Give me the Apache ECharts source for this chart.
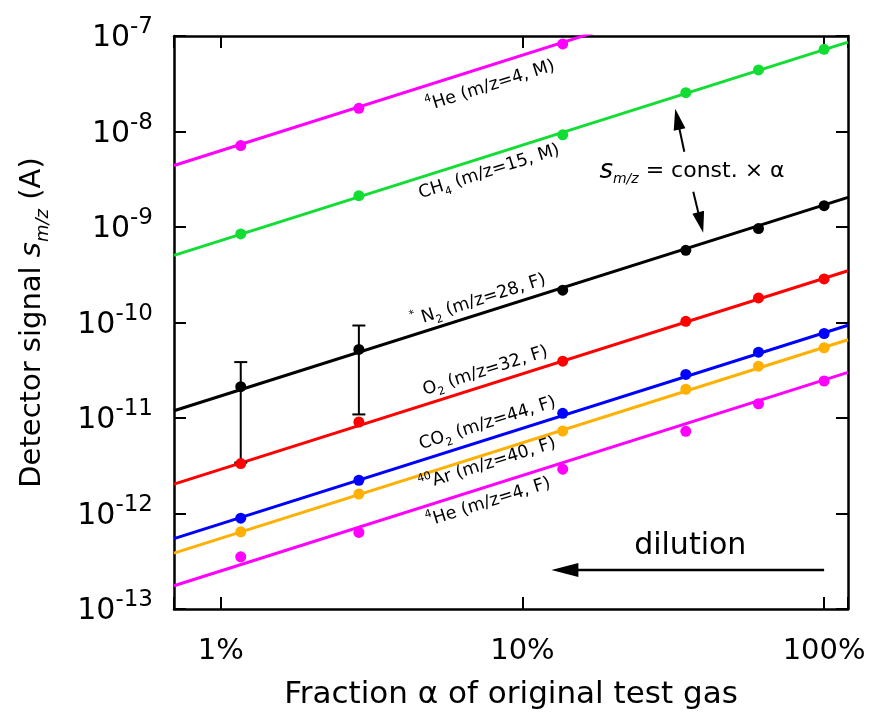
<!DOCTYPE html>
<html><head><meta charset="utf-8">
<script src="https://cdn.jsdelivr.net/npm/echarts@6/dist/echarts.min.js"></script>
<style>html,body{margin:0;padding:0;background:#fff}#c{width:873px;height:715px}</style>
</head><body><div id="c"></div>
<script>
// ---- data ----
const alphas = [0.01165, 0.0287, 0.136, 0.348, 0.606, 1.0];
const xRange = [0.007, 1.2];
const yRange = [1e-13, 1e-7];
const xTickLabels = { '-2': '1%', '-1': '10%', '0': '100%' };

const he4M  = [7.13e-9, 1.75e-8, 8.25e-8];
const ch4M  = [8.46e-10, 2.13e-9, 9.23e-9, 2.55e-8, 4.41e-8, 7.26e-8];
const n2F   = [2.13e-11, 5.22e-11, 2.18e-10, 5.70e-10, 9.62e-10, 1.67e-9];
const o2F   = [3.33e-12, 9.08e-12, 3.94e-11, 1.03e-10, 1.81e-10, 2.86e-10];
const co2F  = [8.94e-13, 2.23e-12, 1.12e-11, 2.86e-11, 4.89e-11, 7.67e-11];
const ar40F = [6.43e-13, 1.60e-12, 7.31e-12, 2.00e-11, 3.49e-11, 5.44e-11];
const he4F  = [3.52e-13, 6.34e-13, 2.91e-12, 7.26e-12, 1.41e-11, 2.44e-11];

// fitted constant (signal at alpha = 100%), s = const x alpha
const fitConst = [6.3e-7, 7.2e-8, 1.7e-9, 2.9e-10, 7.8e-11, 5.5e-11, 2.5e-11];

// error bars of N2 at the two lowest fractions
const n2ErrAlpha = [0.01165, 0.0287];
const n2ErrLow   = [3.41e-12, 1.09e-11];
const n2ErrHigh  = [3.85e-11, 9.3e-11];

const seriesValues = [he4M, ch4M, n2F, o2F, co2F, ar40F, he4F];
const seriesNames = ['4He (m/z=4, M)', 'CH4 (m/z=15, M)', '*N2 (m/z=28, F)', 'O2 (m/z=32, F)', 'CO2 (m/z=44, F)', '40Ar (m/z=40, F)', '4He (m/z=4, F)'];
const colors = ['#ff00ff', '#11dd33', '#000000', '#ff0000', '#0000ff', '#ffb000', '#ff00ff'];

// in-plot labels (text centre, data coordinates)
const labelTexts = [
  '{sup|4}{m|He (m/z=4, M)}',
  '{m|CH}{sub|4}{m| (m/z=15, M)}',
  '{sup|*}{m| N}{sub|2}{m| (m/z=28, F)}',
  '{m|O}{sub|2}{m| (m/z=32, F)}',
  '{m|CO}{sub|2}{m| (m/z=44, F)}',
  '{sup|40}{m|Ar (m/z=40, F)}',
  '{sup|4}{m|He (m/z=4, F)}'
];
const labelAlpha  = [0.0783, 0.0776, 0.0715, 0.0754, 0.0766, 0.0766, 0.0772];
const labelSignal = [3.0e-8, 3.79e-9, 1.70e-10, 3.11e-11, 8.8e-12, 3.28e-12, 1.31e-12];

// annotations (data coordinates)
const constTextPos = [0.180, 3.79e-9];
const upArrow   = [[0.344, 6.13e-9], [0.321, 1.726e-8]];
const downArrow = [[0.3684, 2.34e-9], [0.3974, 8.73e-10]];
const dilutionTextPos = [0.360, 4.56e-13];
const dilutionArrow = [[1.0, 2.56e-13], [0.1247, 2.56e-13]];

// ---- chart ----
const FONT = 'DejaVu Sans';
const chart = echarts.init(document.getElementById('c'), null, { renderer: 'canvas' });

const series = [];
seriesValues.forEach((vals, i) => {
  series.push({
    type: 'line', name: seriesNames[i] + ' fit',
    data: xRange.map(a => [a, fitConst[i] * a]),
    showSymbol: false, silent: true,
    lineStyle: { color: colors[i], width: 3 },
    clip: true, z: 2
  });
});
series.push({
  type: 'custom', name: 'N2 error',
  data: n2ErrAlpha.map((a, i) => [a, n2ErrLow[i], n2ErrHigh[i]]),
  renderItem: (params, api) => {
    const lo = api.coord([api.value(0), api.value(1)]);
    const hi = api.coord([api.value(0), api.value(2)]);
    const w = 6.5;
    const st = { stroke: '#000', lineWidth: 2 };
    return { type: 'group', children: [
      { type: 'line', shape: { x1: lo[0], y1: lo[1], x2: hi[0], y2: hi[1] }, style: st },
      { type: 'line', shape: { x1: lo[0] - w, y1: lo[1], x2: lo[0] + w, y2: lo[1] }, style: st },
      { type: 'line', shape: { x1: hi[0] - w, y1: hi[1], x2: hi[0] + w, y2: hi[1] }, style: st }
    ]};
  },
  z: 3
});
seriesValues.forEach((vals, i) => {
  series.push({
    type: 'scatter', name: seriesNames[i],
    data: vals.map((v, k) => [alphas[k], v]),
    symbol: 'circle', symbolSize: 11,
    itemStyle: { color: colors[i], opacity: 1 }, z: 4, clip: true
  });
});

const axisCommon = {
  type: 'log', logBase: 10,
  axisLine: { show: true, onZero: false, lineStyle: { color: '#000', width: 2.5 } },
  axisTick: { show: true, inside: true, length: 12, lineStyle: { color: '#000', width: 2 } },
  minorTick: { show: false },
  splitLine: { show: false }
};

const option = {
  animation: false,
  backgroundColor: '#fff',
  grid: { left: 174, top: 36, right: 25, bottom: 105 },
  xAxis: [
    Object.assign({}, axisCommon, {
      position: 'bottom', min: xRange[0], max: xRange[1],
      axisLabel: {
        margin: 28, color: '#000', fontSize: 29, fontFamily: FONT,
        formatter: v => { const e = Math.log10(v); const r = Math.round(e);
          return Math.abs(e - r) < 1e-6 && xTickLabels[r] !== undefined ? xTickLabels[r] : ''; }
      },
      name: 'Fraction α of original test gas', nameLocation: 'middle', nameGap: 70,
      nameTextStyle: { color: '#000', fontSize: 31, fontFamily: FONT }
    }),
    Object.assign({}, axisCommon, {
      position: 'top', min: xRange[0], max: xRange[1], axisLabel: { show: false }
    })
  ],
  yAxis: [
    Object.assign({}, axisCommon, {
      position: 'left', min: yRange[0], max: yRange[1],
      axisLabel: {
        margin: 21, color: '#000',
        formatter: v => '{b|10}{s|' + Math.round(Math.log10(v)) + '}',
        rich: {
          b: { fontSize: 30, lineHeight: 40, fontFamily: FONT, color: '#000', padding: [5, 0, 0, 0] },
          s: { fontSize: 23, lineHeight: 16, verticalAlign: 'top', fontFamily: FONT, color: '#000' }
        }
      },
      name: '{a|Detector signal }{i|s}{sub|m/z}{a| (A)}', nameLocation: 'middle', nameRotate: 90, nameGap: 122,
      nameTextStyle: {
        rich: {
          a: { fontSize: 29, lineHeight: 40, fontFamily: FONT, color: '#000' },
          i: { fontSize: 29, lineHeight: 40, fontStyle: 'italic', fontFamily: FONT, color: '#000' },
          sub: { fontSize: 18, lineHeight: 16, fontStyle: 'italic', verticalAlign: 'bottom', fontFamily: FONT, color: '#000' }
        }
      }
    }),
    Object.assign({}, axisCommon, {
      position: 'right', min: yRange[0], max: yRange[1], axisLabel: { show: false }
    })
  ],
  series: series
};
chart.setOption(option);

// ---- annotations placed through the axes' scales ----
const px = (p) => chart.convertToPixel({ xAxisIndex: 0, yAxisIndex: 0 }, p);
const g = [];
const richLab = {
  m: { fontSize: 17.5, lineHeight: 24, fontFamily: FONT, color: '#000' },
  sup: { fontSize: 11, lineHeight: 14, verticalAlign: 'top', fontFamily: FONT, color: '#000' },
  sub: { fontSize: 11, lineHeight: 12, verticalAlign: 'bottom', fontFamily: FONT, color: '#000' }
};
labelTexts.forEach((t, i) => {
  const p0 = px([0.01, fitConst[i] * 0.01]);
  const p1 = px([1, fitConst[i] * 1]);
  const ang = Math.atan2(p0[1] - p1[1], p1[0] - p0[0]);
  const c = px([labelAlpha[i], labelSignal[i]]);
  g.push({ type: 'text', x: c[0], y: c[1], rotation: ang, z: 100,
    style: { text: t, rich: richLab, align: 'center', verticalAlign: 'middle', fill: '#000', fontFamily: FONT, fontSize: 17 } });
});

function arrow(a, b, headLen, headHalf, lw) {
  const p = px(a), q = px(b);
  const dx = q[0] - p[0], dy = q[1] - p[1];
  const L = Math.hypot(dx, dy), ux = dx / L, uy = dy / L;
  const bx = q[0] - ux * headLen, by = q[1] - uy * headLen;
  g.push({ type: 'line', z: 100, shape: { x1: p[0], y1: p[1], x2: bx + ux * 2, y2: by + uy * 2 }, style: { stroke: '#000', lineWidth: lw } });
  g.push({ type: 'polygon', z: 100, shape: { points: [[q[0], q[1]], [bx - uy * headHalf, by + ux * headHalf], [bx + uy * headHalf, by - ux * headHalf]] }, style: { fill: '#000' } });
}
arrow(upArrow[0], upArrow[1], 21, 6, 2);
arrow(downArrow[0], downArrow[1], 21, 6, 2);
arrow(dilutionArrow[0], dilutionArrow[1], 27, 7, 2.5);

const ct = px(constTextPos);
g.push({ type: 'text', x: ct[0], y: ct[1], z: 100,
  style: { text: '{s|s}{sub|m/z}{m| = const. × α}', align: 'left', verticalAlign: 'middle',
    rich: {
      s: { fontSize: 26, lineHeight: 30, fontStyle: 'italic', fontFamily: FONT, color: '#000' },
      sub: { fontSize: 14, lineHeight: 12, fontStyle: 'italic', verticalAlign: 'bottom', fontFamily: FONT, color: '#000' },
      m: { fontSize: 22, lineHeight: 30, fontFamily: FONT, color: '#000' }
    } } });
const dt = px(dilutionTextPos);
g.push({ type: 'text', x: dt[0], y: dt[1], z: 100,
  style: { text: 'dilution', align: 'center', verticalAlign: 'middle', fill: '#000', fontSize: 30, fontFamily: FONT } });

chart.setOption({ graphic: g });
</script></body></html>
